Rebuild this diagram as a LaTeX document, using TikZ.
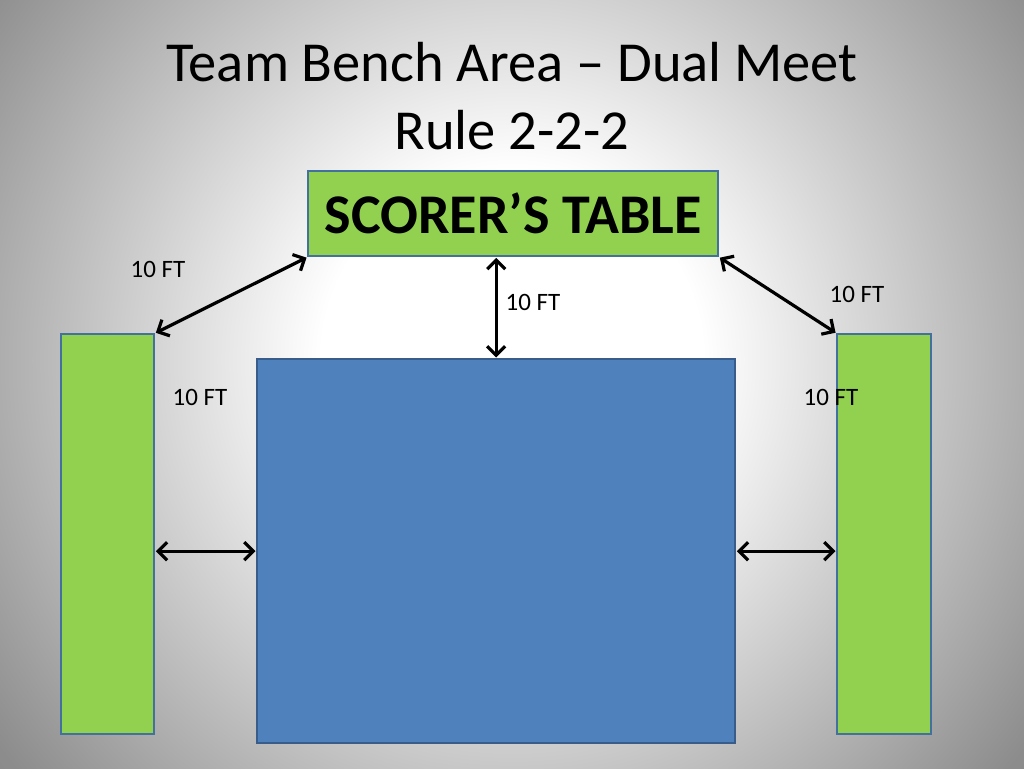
\documentclass[tikz,border=0pt]{standalone}
\usepackage{fontspec}
\setmainfont{Carlito}
\usetikzlibrary{arrows.meta}
\definecolor{bgreen}{HTML}{92D050}
\definecolor{bblue}{HTML}{4F81BD}
\definecolor{edgeblue}{HTML}{41719C}
\definecolor{matedge}{HTML}{385D8A}
\pgfdeclareradialshading{slidebg}{\pgfpoint{0bp}{0bp}}{color(0bp)=(white); color(190bp)=(white); color(640bp)=(black!45); color(840bp)=(black!52)}
\begin{document}
\begin{tikzpicture}[x=1pt,y=-1pt,
  benchbox/.style={draw=edgeblue, line width=2.4pt, fill=bgreen, inner sep=0pt, anchor=north west},
  matbox/.style={draw=matedge, line width=2.4pt, fill=bblue, inner sep=0pt, anchor=north west},
  dimarrow/.style={line width=3.2pt, {Straight Barb[length=9pt,width=18pt]}-{Straight Barb[length=9pt,width=18pt]}, shorten <=0.5pt, shorten >=0.5pt},
  dimlabel/.style={font=\fontsize{25}{28}\selectfont, inner sep=0pt}]
\useasboundingbox (0,0) rectangle (1024,768);
\begin{scope}
\clip (0,0) rectangle (1024,768);
\node[inner sep=0pt] (bg) at (512,360) {\pgfuseshading{slidebg}};
\end{scope}
% title
\node[font=\fontsize{56.5}{64}\selectfont, inner sep=0pt] (title1) at (512,62) {Team Bench Area -- Dual Meet};
\node[font=\fontsize{56.5}{64}\selectfont, inner sep=0pt] (title2) at (512,130) {Rule 2-2-2};
% boxes
\node[benchbox, minimum width=410pt, minimum height=85pt, font=\bfseries\fontsize{56}{60}\selectfont] (table) at (307,170) {SCORER’S TABLE};
\node[benchbox, minimum width=93pt, minimum height=400pt] (lbench) at (60,333) {};
\node[benchbox, minimum width=94pt, minimum height=400pt] (rbench) at (836,333) {};
\node[matbox, minimum width=478pt, minimum height=384pt] (mat) at (256,358) {};
% arrows
\draw[dimarrow] (lbench.north east) -- (table.south west);
\draw[dimarrow] (table.south east) -- (rbench.north west);
\draw[dimarrow] (table.south -| mat.north) -- (mat.north);
\draw[dimarrow] (mat.west -| lbench.east) -- (mat.west);
\draw[dimarrow] (mat.east) -- (mat.east -| rbench.west);
% labels
\node[dimlabel] (l1) at (158,269) {10 FT};
\node[dimlabel] (l2) at (533,302) {10 FT};
\node[dimlabel] (l3) at (857,294) {10 FT};
\node[dimlabel] (l4) at (200,397) {10 FT};
\node[dimlabel] (l5) at (831,397) {10 FT};
\end{tikzpicture}
\end{document}
